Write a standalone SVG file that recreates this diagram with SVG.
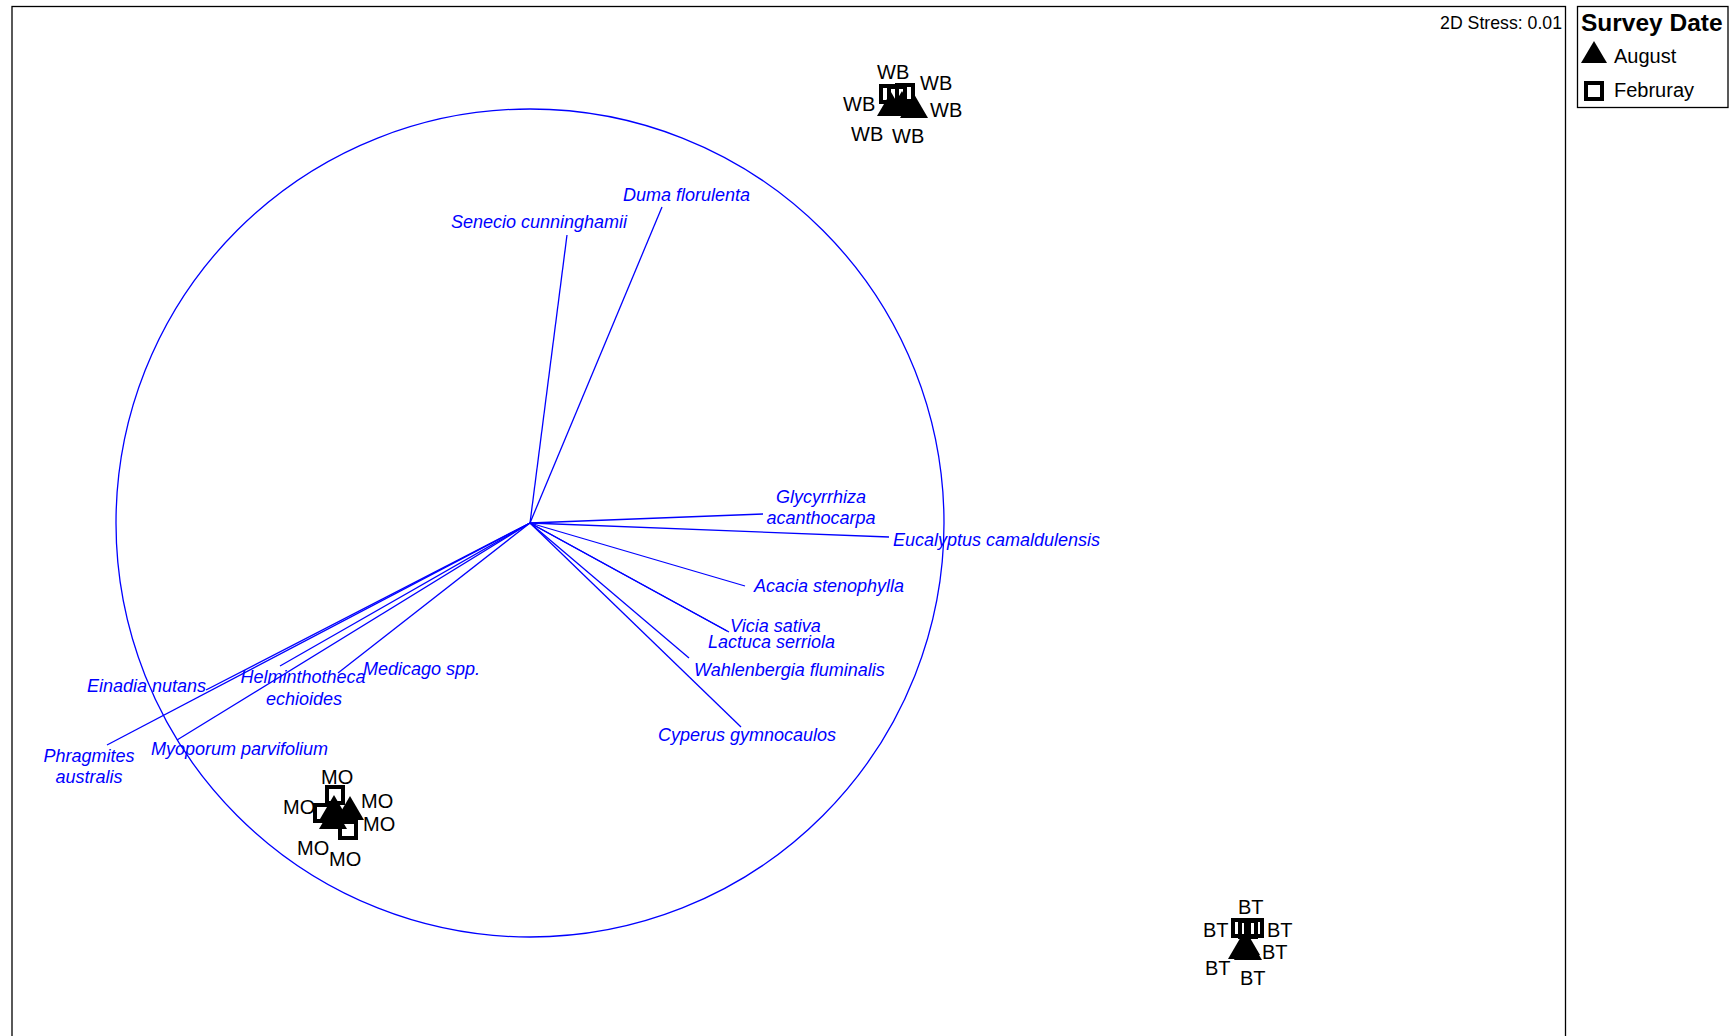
<svg xmlns="http://www.w3.org/2000/svg" width="1736" height="1036" viewBox="0 0 1736 1036">
<style>
.frame{fill:none;stroke:#000;stroke-width:1.3}
.vec{stroke:#0000FF;stroke-width:1.3;fill:none}
.sp{font-family:"Liberation Sans",Arial,sans-serif;font-style:italic;font-size:18px;fill:#0000FF}
.lab{font-family:"Liberation Sans",Arial,sans-serif;font-size:20px;fill:#000}
.sq{fill:none;stroke:#000;stroke-width:4}
.tri{fill:#000;stroke:none}
</style>
<defs>
<path id="tri" d="M0,-16 L14,8 L-14,8 Z"/>
<rect id="sq" x="-8" y="-8" width="16" height="16"/>
</defs>
<rect width="1736" height="1036" fill="#fff"/>
<g id="plot-frame"><rect class="frame" x="12" y="6.5" width="1553.5" height="1040"/></g>
<g id="stress"><text x="1562" y="29" text-anchor="end" font-family="Liberation Sans, Arial, sans-serif" font-size="17.7">2D Stress: 0.01</text></g>
<g id="legend">
<rect class="frame" x="1577.5" y="6.5" width="150.5" height="101"/>
<text x="1581" y="31" font-family="Liberation Sans, Arial, sans-serif" font-size="24.5" font-weight="bold">Survey Date</text>
<polygon points="1594,41 1607,63 1581,63" fill="#000"/>
<text x="1614" y="63" font-family="Liberation Sans, Arial, sans-serif" font-size="20">August</text>
<rect class="sq" x="1586" y="83" width="16" height="16"/>
<text x="1614" y="97" font-family="Liberation Sans, Arial, sans-serif" font-size="20">Februray</text>
</g>
<g id="circle"><circle class="vec" cx="530" cy="523" r="414"/></g>
<g id="connectors">
<line class="vec" x1="530" y1="523" x2="567" y2="235"/>
<line class="vec" x1="530" y1="523" x2="662" y2="207"/>
<line class="vec" x1="530" y1="523" x2="763" y2="514"/>
<line class="vec" x1="530" y1="523" x2="889" y2="537"/>
<line class="vec" x1="530" y1="523" x2="745" y2="586"/>
<line class="vec" x1="530" y1="523" x2="729" y2="632"/>
<line class="vec" x1="530" y1="523" x2="727" y2="631"/>
<line class="vec" x1="530" y1="523" x2="689" y2="658"/>
<line class="vec" x1="530" y1="523" x2="741" y2="727"/>
<line class="vec" x1="530" y1="523" x2="206" y2="690"/>
<line class="vec" x1="530" y1="523" x2="107" y2="745"/>
<line class="vec" x1="530" y1="523" x2="280" y2="666"/>
<line class="vec" x1="530" y1="523" x2="177" y2="740"/>
<line class="vec" x1="530" y1="523" x2="338" y2="673"/>
</g>
<g id="species-labels">
<text class="sp" x="451" y="228">Senecio cunninghamii</text>
<text class="sp" x="623" y="201">Duma florulenta</text>
<text class="sp" x="821" y="503" text-anchor="middle">Glycyrrhiza</text>
<text class="sp" x="821" y="524" text-anchor="middle">acanthocarpa</text>
<text class="sp" x="893" y="546">Eucalyptus camaldulensis</text>
<text class="sp" x="754" y="592">Acacia stenophylla</text>
<text class="sp" x="730" y="632">Vicia sativa</text>
<text class="sp" x="708" y="648">Lactuca serriola</text>
<text class="sp" x="694" y="676">Wahlenbergia fluminalis</text>
<text class="sp" x="658" y="741">Cyperus gymnocaulos</text>
<text class="sp" x="87" y="692">Einadia nutans</text>
<text class="sp" x="303" y="683" text-anchor="middle">Helminthotheca</text>
<text class="sp" x="304" y="705" text-anchor="middle">echioides</text>
<text class="sp" x="363" y="675">Medicago spp.</text>
<text class="sp" x="89" y="762" text-anchor="middle">Phragmites</text>
<text class="sp" x="89" y="783" text-anchor="middle">australis</text>
<text class="sp" x="151" y="755">Myoporum parvifolium</text>
</g>
<g id="WB">
<use href="#tri" class="tri" x="891" y="108"/>
<use href="#tri" class="tri" x="914" y="110"/>
<use href="#tri" class="tri" x="902" y="107"/>
<use href="#sq" class="sq" x="889" y="94"/>
<use href="#sq" class="sq" x="905" y="93"/>
<use href="#sq" class="sq" x="897" y="95"/>
<text class="lab" x="877" y="79">WB</text>
<text class="lab" x="920" y="90">WB</text>
<text class="lab" x="843" y="111">WB</text>
<text class="lab" x="930" y="117">WB</text>
<text class="lab" x="851" y="141">WB</text>
<text class="lab" x="892" y="143">WB</text>
</g>
<g id="MO">
<use href="#tri" class="tri" x="333" y="821"/>
<use href="#tri" class="tri" x="350" y="812"/>
<use href="#tri" class="tri" x="334" y="811"/>
<use href="#sq" class="sq" x="335" y="795"/>
<use href="#sq" class="sq" x="323" y="813"/>
<use href="#sq" class="sq" x="348" y="830"/>
<text class="lab" x="321" y="784">MO</text>
<text class="lab" x="283" y="814">MO</text>
<text class="lab" x="361" y="808">MO</text>
<text class="lab" x="363" y="831">MO</text>
<text class="lab" x="297" y="855">MO</text>
<text class="lab" x="329" y="866">MO</text>
</g>
<g id="BT">
<use href="#tri" class="tri" x="1242" y="951"/>
<use href="#tri" class="tri" x="1248" y="952"/>
<use href="#tri" class="tri" x="1246" y="947"/>
<use href="#sq" class="sq" x="1241" y="928"/>
<use href="#sq" class="sq" x="1254" y="928"/>
<use href="#sq" class="sq" x="1248" y="929"/>
<text class="lab" x="1238" y="914">BT</text>
<text class="lab" x="1203" y="937">BT</text>
<text class="lab" x="1267" y="937">BT</text>
<text class="lab" x="1262" y="959">BT</text>
<text class="lab" x="1205" y="975">BT</text>
<text class="lab" x="1240" y="985">BT</text>
</g>
</svg>
